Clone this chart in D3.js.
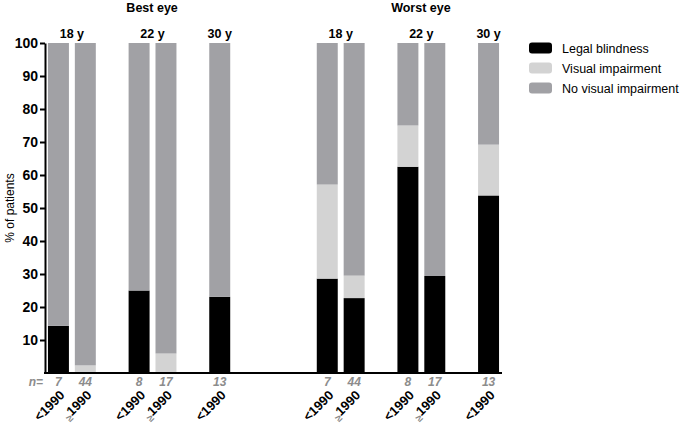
<!DOCTYPE html>
<html>
<head>
<meta charset="utf-8">
<script src="https://cdn.jsdelivr.net/npm/d3@7"></script>
<style>
  body { margin: 0; background: #fff; }
  text { font-family: "Liberation Sans", Arial, sans-serif; }
</style>
</head>
<body>
<script>
(function () {
  'use strict'

  // bar data (percent of patients), one entry per bar
  var slots = [0, 1, 3, 4, 6, 10, 11, 13, 14, 16]
  var periods = ['<1990', '≥1990', '<1990', '≥1990', '<1990', '<1990', '≥1990', '<1990', '≥1990', '<1990']
  var counts = [7, 44, 8, 17, 13, 7, 44, 8, 17, 13]
  var blindness = [14.3, 0, 25, 0, 23.1, 28.6, 22.7, 62.5, 29.4, 53.8]
  var impairment = [0, 2.3, 0, 5.9, 0, 28.5, 6.8, 12.5, 0, 15.4]

  var ageGroups = ['18 y', '22 y', '30 y', '18 y', '22 y', '30 y']
  var ageSlots = [[0, 1], [3, 4], [6, 6], [10, 11], [13, 14], [16, 16]]
  var panels = ['Best eye', 'Worst eye']
  var panelSlots = [[0, 6], [10, 16]]

  var yTicks = [10, 20, 30, 40, 50, 60, 70, 80, 90, 100]
  var keys = ['Legal blindness', 'Visual impairment', 'No visual impairment']
  var colors = ['#000000', '#d3d3d3', '#a1a1a5']

  var dim = { w: 682, h: 425 }
  var margin = { left: 45, right: 180, top: 43, bottom: 52 }

  var svg = d3.select('body').append('svg')
    .attr('width', dim.w)
    .attr('height', dim.h)

  var x = d3.scaleBand().domain(d3.range(17))
    .range([margin.left, dim.w - margin.right])
    .paddingInner(0.22).paddingOuter(0.11)

  var y = d3.scaleLinear().domain([0, 100])
    .range([dim.h - margin.bottom, margin.top])

  var data = slots.map(function (s, i) {
    var b = blindness[i]
    var v = impairment[i]
    return [
      { k: 0, y0: 0, y1: b },
      { k: 1, y0: b, y1: b + v },
      { k: 2, y0: b + v, y1: 100 }
    ].map(function (d) { d.slot = s; return d })
  })

  var bars = svg.append('g').attr('class', 'chart')
  data.forEach(function (stack) {
    bars.selectAll(null)
      .data(stack.filter(function (d) { return d.y1 > d.y0 }))
      .enter().append('rect')
        .attr('x', function (d) { return x(d.slot) })
        .attr('width', x.bandwidth())
        .attr('y', function (d) { return y(d.y1) })
        .attr('height', function (d) { return y(d.y0) - y(d.y1) })
        .attr('fill', function (d) { return colors[d.k] })
  })

  // axes
  var leftAxis = d3.axisLeft(y).tickValues(yTicks).tickSize(5).tickSizeOuter(0)
  var gy = svg.append('g')
    .attr('transform', 'translate(' + margin.left + ',0)')
    .call(leftAxis)
  gy.select('.domain').attr('stroke-width', 2)
  gy.selectAll('.tick line').attr('stroke-width', 2)
  gy.selectAll('.tick text')
    .attr('font-size', 14).attr('font-weight', 'bold').attr('fill', '#000')
    .attr('font-family', '"Liberation Sans", Arial, sans-serif')
    .attr('x', -7)

  svg.append('line')
    .attr('x1', margin.left - 1).attr('x2', dim.w - margin.right)
    .attr('y1', y(0)).attr('y2', y(0))
    .attr('stroke', '#000').attr('stroke-width', 2)

  svg.append('text')
    .attr('transform', 'translate(14,' + y(50) + ') rotate(-90)')
    .attr('text-anchor', 'middle')
    .attr('font-size', 12)
    .text('% of patients')

  // n= row
  svg.append('text')
    .attr('x', 43).attr('y', 386)
    .attr('text-anchor', 'end')
    .attr('font-size', 12).attr('font-style', 'italic').attr('font-weight', 'bold')
    .attr('fill', '#8c8c8c')
    .text('n=')

  svg.selectAll('.n').data(slots).enter().append('text')
    .attr('x', function (s) { return x(s) + x.bandwidth() / 2 })
    .attr('y', 386)
    .attr('text-anchor', 'middle')
    .attr('font-size', 12).attr('font-style', 'italic').attr('font-weight', 'bold')
    .attr('fill', '#8c8c8c')
    .text(function (s, i) { return counts[i] })

  // rotated period labels
  var lab = svg.selectAll('.period').data(slots).enter().append('text')
    .attr('transform', function (s) {
      return 'translate(' + (x(s) + x.bandwidth() / 2 + 7) + ',396) rotate(-45)'
    })
    .attr('text-anchor', 'end')
    .attr('font-size', 13).attr('font-weight', 'bold')
  lab.each(function (s, i) {
    var t = d3.select(this)
    var p = periods[i]
    if (p.charAt(0) === '≥') {
      t.append('tspan').attr('fill', '#888').attr('font-size', 10)
        .attr('dy', 3).text('≥')
      t.append('tspan').attr('dy', -3).text(p.slice(1))
    } else {
      t.text(p)
    }
  })

  // age group labels
  svg.selectAll('.age').data(ageGroups).enter().append('text')
    .attr('x', function (d, i) {
      var a = ageSlots[i]
      return (x(a[0]) + x(a[1]) + x.bandwidth()) / 2
    })
    .attr('y', 38)
    .attr('text-anchor', 'middle')
    .attr('font-size', 12.5).attr('font-weight', 'bold')
    .text(function (d) { return d })

  // panel titles sit a little right of their bar groups
  svg.selectAll('.panel').data(panels).enter().append('text')
    .attr('x', function (d, i) {
      var a = panelSlots[i]
      return (x(a[0]) + x(a[1]) + x.bandwidth()) / 2 + 13
    })
    .attr('y', 12)
    .attr('text-anchor', 'middle')
    .attr('font-size', 12.5).attr('font-weight', 'bold')
    .text(function (d) { return d })

  // legend
  var legend = svg.append('g').attr('transform', 'translate(529,42.5)')
  var items = legend.selectAll('g').data(keys).enter().append('g')
    .attr('transform', function (d, i) { return 'translate(0,' + (i * 20) + ')' })
  items.append('rect')
    .attr('width', 23).attr('height', 11).attr('rx', 3)
    .attr('fill', function (d, i) { return colors[i] })
  items.append('text')
    .attr('x', 33).attr('y', 10)
    .attr('font-size', 12.5)
    .text(function (d) { return d })
}())
</script>
</body>
</html>
